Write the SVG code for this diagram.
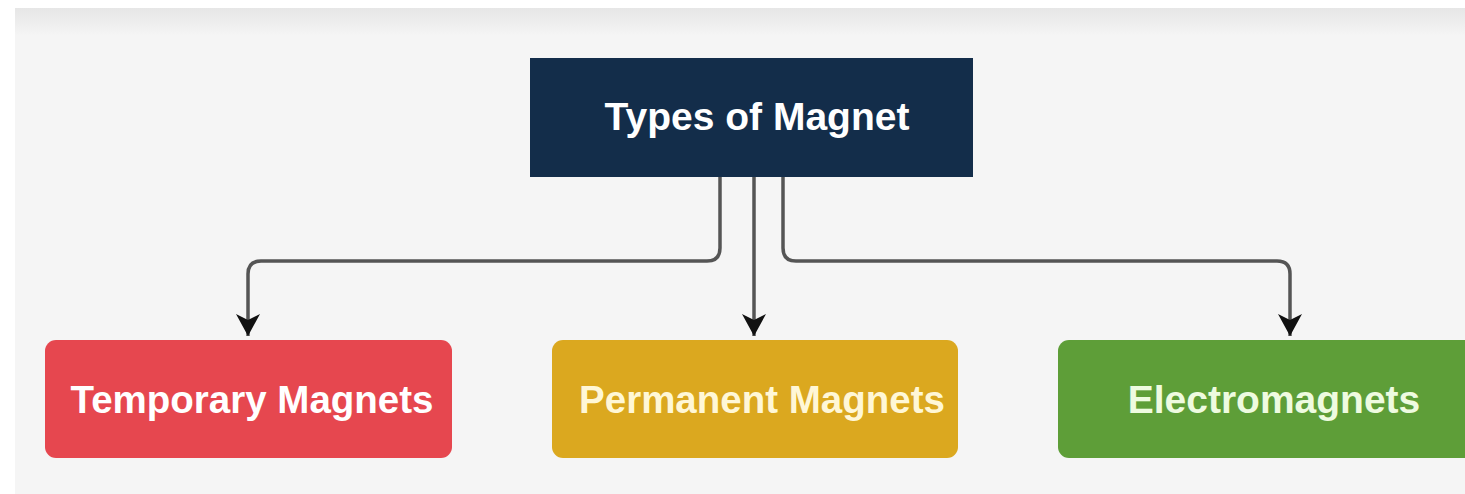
<svg xmlns="http://www.w3.org/2000/svg" width="1465" height="494" viewBox="0 0 1465 494">
  <defs>
    <linearGradient id="topShade" x1="0" y1="0" x2="0" y2="1">
      <stop offset="0" stop-color="#e6e6e6"/>
      <stop offset="1" stop-color="#f5f5f5"/>
    </linearGradient>
    <marker id="arrow" viewBox="0 0 22 24" refX="22" refY="12" markerWidth="22" markerHeight="24" markerUnits="userSpaceOnUse" orient="auto">
      <path d="M0,0 L6,12 L0,24 L22,12 Z" fill="#111"/>
    </marker>
    <style>
      .lbl { font-family: "Liberation Sans", Arial, sans-serif; font-weight: bold; text-anchor: middle; fill: #ffffff; }
      .conn { fill: none; stroke: #555; stroke-width: 3.5; }
    </style>
  </defs>
  <rect x="0" y="0" width="1465" height="494" fill="#ffffff"/>
  <rect x="15" y="8" width="1450" height="486" fill="#f5f5f5"/>
  <rect x="15" y="8" width="1450" height="28" fill="url(#topShade)"/>

  <g id="connectors">
    <path class="conn" d="M720,177 L720,248 Q720,261 707,261 L261,261 Q248,261 248,274 L248,336" marker-end="url(#arrow)"/>
    <path class="conn" d="M754,177 L754,336" marker-end="url(#arrow)"/>
    <path class="conn" d="M783,177 L783,248 Q783,261 796,261 L1277,261 Q1290,261 1290,274 L1290,336" marker-end="url(#arrow)"/>
  </g>

  <g id="node-root">
    <rect x="530" y="58" width="443" height="119" fill="#132d4a"/>
    <text class="lbl" x="757" y="130" font-size="39">Types of Magnet</text>
  </g>
  <g id="node-temporary">
    <rect x="45" y="340" width="407" height="118" rx="11" fill="#e6474f"/>
    <text class="lbl" x="252" y="413" font-size="38.5">Temporary Magnets</text>
  </g>
  <g id="node-permanent">
    <rect x="552" y="340" width="406" height="118" rx="11" fill="#dba81f"/>
    <text class="lbl" x="762" y="413" font-size="38.5" style="fill:#fff7d6">Permanent Magnets</text>
  </g>
  <g id="node-electro">
    <rect x="1058" y="340" width="420" height="118" rx="11" fill="#5e9e38"/>
    <text class="lbl" x="1274" y="413" font-size="39" style="fill:#eefbe0">Electromagnets</text>
  </g>
</svg>
